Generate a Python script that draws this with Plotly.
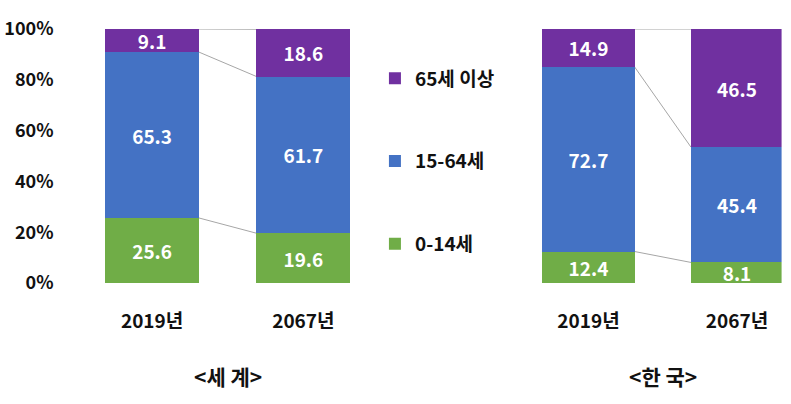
import plotly.graph_objects as go
import numpy as np

years = ["2019년", "2067년"]
groups = ["0-14세", "15-64세", "65세 이상"]
colors = ["#70AD47", "#4472C4", "#7030A0"]

world_0_14 = [25.6, 19.6]
world_15_64 = [65.3, 61.7]
world_65 = [9.1, 18.6]

korea_0_14 = [12.4, 8.1]
korea_15_64 = [72.7, 45.4]
korea_65 = [14.9, 46.5]

titles = ["<세 계>", "<한 국>"]
y_ticks = [0, 20, 40, 60, 80, 100]
y_ticktext = ["0%", "20%", "40%", "60%", "80%", "100%"]

FONT = "Noto Sans CJK KR"
BAR_W = 0.62

fig = go.Figure()

regions = [
    ("x", "y", [world_0_14, world_15_64, world_65], True),
    ("x2", "y2", [korea_0_14, korea_15_64, korea_65], False),
]

for xa, ya, series, showleg in regions:
    for i, (name, vals, col) in enumerate(zip(groups, series, colors)):
        fig.add_trace(go.Bar(
            x=years, y=vals, name=name, xaxis=xa, yaxis=ya,
            marker=dict(color=col, line=dict(width=0)),
            width=BAR_W,
            text=[f"{v:.1f}" for v in vals], textposition="inside",
            insidetextanchor="middle", textangle=0,
            textfont=dict(color="white", size=19, family=FONT, weight="bold"),
            showlegend=showleg, legendgroup=name, legendrank=1000 - i,
        ))
    # connector lines between stacked segment tops
    cum = np.cumsum(np.array(series), axis=0)
    for row in cum:
        fig.add_shape(type="line", xref=xa, yref=ya,
                      x0=0 + BAR_W / 2, x1=1 - BAR_W / 2,
                      y0=row[0], y1=row[1],
                      line=dict(color="#A6A6A6", width=1), layer="below")

axis_font = dict(family=FONT, size=18, color="#111111", weight="bold")

fig.update_layout(
    width=791, height=404,
    margin=dict(l=0, r=0, t=29, b=121),
    paper_bgcolor="white", plot_bgcolor="white",
    barmode="stack",
    uniformtext=dict(minsize=19, mode="show"),
    xaxis=dict(domain=[0.0967, 0.4791], range=[-0.5, 1.5], showgrid=False,
               showline=False, zeroline=False, ticks="", tickfont=dict(axis_font, size=19),
               ticklabelstandoff=25, anchor="y"),
    xaxis2=dict(domain=[0.6501, 0.9881], range=[-0.5, 1.3], showgrid=False,
                showline=False, zeroline=False, ticks="", tickfont=dict(axis_font, size=19),
                ticklabelstandoff=25, anchor="y2"),
    yaxis=dict(range=[0, 100], tickvals=y_ticks, ticktext=y_ticktext,
               showgrid=False, zeroline=False, showline=False, ticks="",
               tickfont=axis_font, ticklabelstandoff=22, anchor="x"),
    yaxis2=dict(range=[0, 100], showgrid=False, zeroline=False, showline=False,
                showticklabels=False, ticks="", anchor="x2"),
    legend=dict(x=0.474, y=0.88, xanchor="left", yanchor="top",
                traceorder="grouped", tracegroupgap=55,
                font=dict(family=FONT, size=19, color="#111111", weight="bold"),
                bgcolor="rgba(0,0,0,0)", itemclick=False),
    font=dict(family=FONT),
)

for xa, title in zip(["x", "x2"], titles):
    fig.add_annotation(text=title, xref=xa, yref="paper", x=0.5, y=-0.365,
                       showarrow=False, yanchor="middle",
                       font=dict(family=FONT, size=21, color="#111111", weight="bold"))

fig.write_html("out.html")
